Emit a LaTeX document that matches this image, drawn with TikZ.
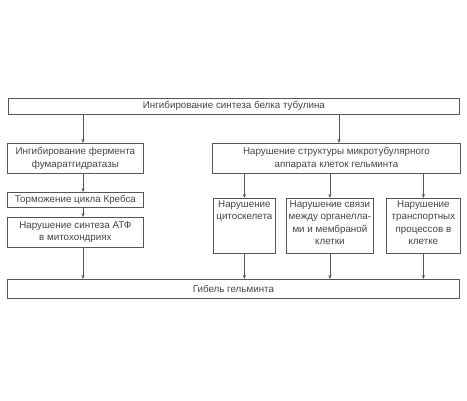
\documentclass[tikz,border=0pt]{standalone}
\usepackage{fontspec}
\setmainfont{Liberation Sans}
\usetikzlibrary{arrows.meta}
\definecolor{ln}{HTML}{555555}
\definecolor{tx}{HTML}{444444}
\tikzset{
  box/.style={draw=ln, line width=0.8pt, rectangle, inner sep=0pt, text=tx, font=\fontsize{9.8}{12.3}\selectfont, align=center, anchor=north west},
  arr/.style={draw=ln, line width=0.7pt, -{Stealth[length=4pt,width=3.2pt]}}
}
\newcommand{\tb}[3]{\parbox[c][#2pt][t]{#1pt}{\centering\vspace{2.5pt}#3}}
\begin{document}
\begin{tikzpicture}[x=1pt,y=-1pt]
\useasboundingbox (0,0) rectangle (467,400);
\node[box, minimum width=451pt, minimum height=16pt] (top) at (8,98) {Ингибирование синтеза белка тубулина};
\node[box, minimum width=136pt, minimum height=30pt] (l1) at (7,143) {Ингибирование фермента\\фумаратгидратазы};
\node[box, minimum width=136pt, minimum height=15pt] (l2) at (7,192) {Торможение цикла Кребса};
\node[box, minimum width=136pt, minimum height=30pt] (l3) at (7,217) {Нарушение синтеза АТФ\\в митохондриях};
\node[box, minimum width=248pt, minimum height=30pt] (r) at (212,143) {Нарушение структуры микротубулярного\\аппарата клеток гельминта};
\node[box] (s1) at (213,198) {\tb{62}{55}{Нарушение\\цитоскелета}};
\node[box] (s2) at (286,198) {\tb{87}{55}{Нарушение связи\\между органелла-\\ми и мембраной\\клетки}};
\node[box] (s3) at (386,198) {\tb{74}{55}{Нарушение\\транспортных\\процессов в\\клетке}};
\node[box, minimum width=452pt, minimum height=19pt] (bot) at (7,279) {Гибель гельминта};
\coordinate (xl) at (83,0);
\coordinate (xr) at (339,0);
\draw[arr] (xl |- top.south) -- (xl |- l1.north);
\draw[arr] (xr |- top.south) -- (xr |- r.north);
\draw[arr] (xl |- l1.south) -- (xl |- l2.north);
\draw[arr] (xl |- l2.south) -- (xl |- l3.north);
\draw[arr] (xl |- l3.south) -- (xl |- bot.north);
\draw[arr] (s1.north |- r.south) -- (s1.north);
\draw[arr] (s2.north |- r.south) -- (s2.north);
\draw[arr] (s3.north |- r.south) -- (s3.north);
\draw[arr] (s1.south) -- (s1.south |- bot.north);
\draw[arr] (s2.south) -- (s2.south |- bot.north);
\draw[arr] (s3.south) -- (s3.south |- bot.north);
\end{tikzpicture}
\end{document}
